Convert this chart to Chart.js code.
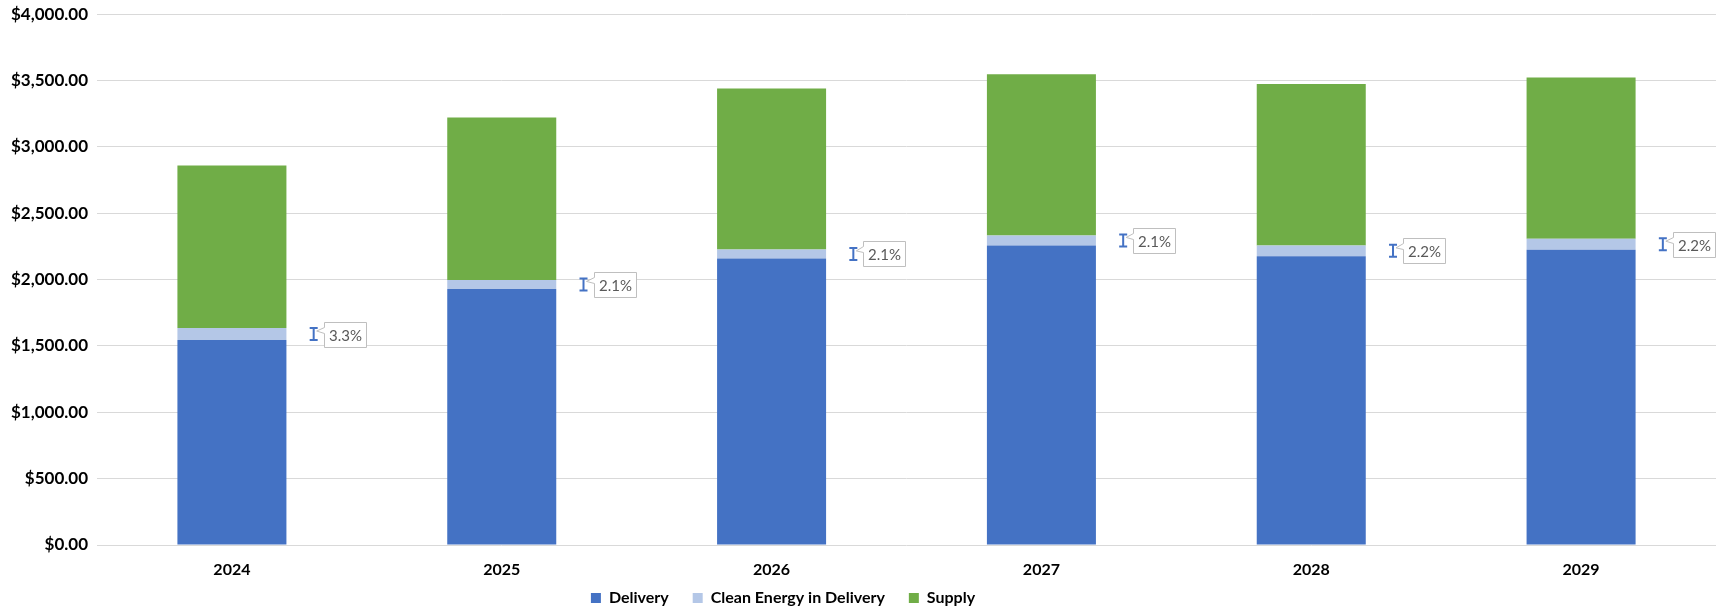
<!DOCTYPE html>
<html>
<head>
<meta charset="utf-8">
<script src="https://cdn.jsdelivr.net/npm/chart.js@4.4.1/dist/chart.umd.min.js"></script>
<style>
  html, body { margin: 0; padding: 0; background: #fff; }
</style>
</head>
<body>
<canvas id="chart" width="1729" height="613"></canvas>
<script>
// values
const years = ["2024", "2025", "2026", "2027", "2028", "2029"];
const delivery = [1545, 1930, 2160, 2258, 2176, 2226];
const cleanEnergy = [90, 68, 68, 75, 82, 82];
const supply = [1226, 1225, 1212, 1216, 1216, 1216];
const growthLabels = ["3.3%", "2.1%", "2.1%", "2.1%", "2.2%", "2.2%"];

const FONT = "Lato, 'Open Sans', sans-serif";

// blue I-beam marker with a callout label, placed beside each bar
const calloutPlugin = {
  id: "callouts",
  afterDatasetsDraw(chart) {
    const ctx = chart.ctx;
    const y = chart.scales.y;
    const x = chart.scales.x;
    const catW = x.width / years.length;
    ctx.save();
    years.forEach((yr, i) => {
      const mx = x.getPixelForValue(i) + catW * 0.303;
      const my = y.getPixelForValue(delivery[i] + cleanEnergy[i] / 2);

      // I-beam
      ctx.strokeStyle = "#4472C4";
      ctx.lineWidth = 2;
      ctx.beginPath();
      ctx.moveTo(mx, my - 6); ctx.lineTo(mx, my + 6);
      ctx.moveTo(mx - 4, my - 6); ctx.lineTo(mx + 4, my - 6);
      ctx.moveTo(mx - 4, my + 6); ctx.lineTo(mx + 4, my + 6);
      ctx.stroke();

      // callout box
      const bx = Math.round(mx + 10) + 0.5, bw = 42, bh = 25;
      const by = Math.round(my - bh / 2) + 0.5;
      ctx.beginPath();
      ctx.moveTo(bx, by);
      ctx.lineTo(bx + bw, by);
      ctx.lineTo(bx + bw, by + bh);
      ctx.lineTo(bx, by + bh);
      ctx.lineTo(bx, by + 11);
      ctx.lineTo(mx + 3, my - 3);
      ctx.lineTo(bx, by + 5);
      ctx.closePath();
      ctx.fillStyle = "#fff";
      ctx.fill();
      ctx.strokeStyle = "#BFBFBF";
      ctx.lineWidth = 1;
      ctx.stroke();

      ctx.fillStyle = "#595959";
      ctx.font = "15px " + FONT;
      ctx.textAlign = "center";
      ctx.textBaseline = "middle";
      ctx.fillText(growthLabels[i], bx + bw / 2, by + bh / 2 + 1);
    });
    ctx.restore();
  }
};

// legend: shorter box, and a little left of centre like the reference
const legendTweak = {
  id: "legendTweak",
  beforeLayout(chart) {
    const lg = chart.legend;
    if (lg && !lg._patched) {
      const fit = lg.fit.bind(lg);
      lg.fit = function () { fit(); this.height = 47; };
      lg._patched = true;
    }
  },
  afterLayout(chart) {
    chart.legend.right -= 150;
    // let the year labels draw below the squeezed x axis box
    chart.scales.x.bottom = chart.scales.x.top + 50;
  }
};

new Chart(document.getElementById("chart").getContext("2d"), {
  type: "bar",
  data: {
    labels: years,
    datasets: [
      { label: "Delivery", data: delivery, backgroundColor: "#4472C4" },
      { label: "Clean Energy in Delivery", data: cleanEnergy, backgroundColor: "#B4C7E7" },
      { label: "Supply", data: supply, backgroundColor: "#70AD47" }
    ]
  },
  options: {
    responsive: false,
    animation: false,
    datasets: {
      bar: { barPercentage: 0.404, categoryPercentage: 1 }
    },
    layout: {
      padding: { left: 0, right: 13, top: 14.3, bottom: 0 }
    },
    plugins: {
      legend: {
        position: "bottom",
        labels: {
          boxWidth: 10,
          boxHeight: 10,
          padding: 24,
          color: "#000",
          font: { family: FONT, size: 16, weight: "bold" }
        }
      },
      tooltip: { enabled: false }
    },
    scales: {
      x: {
        stacked: true,
        afterFit(scale) { scale.height = 21; },
        grid: { display: false },
        border: { display: false },
        ticks: {
          padding: 7,
          color: "#000",
          font: { family: FONT, size: 16, weight: "bold" }
        }
      },
      y: {
        stacked: true,
        min: 0,
        max: 4000,
        afterFit(scale) {
          scale.width = 97;
          scale.paddingTop = 0;
          scale.paddingBottom = 0;
        },
        grid: { color: "#D9D9D9", drawTicks: false },
        border: { display: false },
        ticks: {
          stepSize: 500,
          padding: 9,
          color: "#000",
          font: { family: FONT, size: 17, weight: "bold" },
          callback: v => "$" + Number(v).toLocaleString("en-US", { minimumFractionDigits: 2, maximumFractionDigits: 2 })
        }
      }
    }
  },
  plugins: [calloutPlugin, legendTweak]
});
</script>
</body>
</html>
